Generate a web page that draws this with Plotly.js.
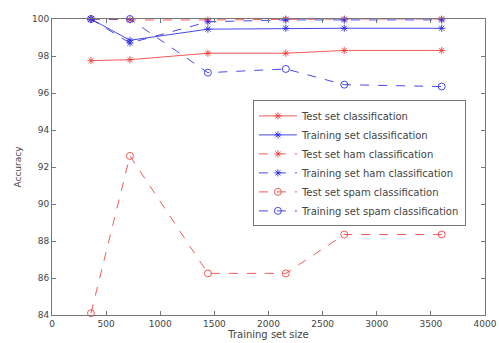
<!DOCTYPE html>
<html><head><meta charset="utf-8">
<script src="https://cdn.plot.ly/plotly-3.0.1.min.js"></script>
<style>body{margin:0;background:#fff}#chart{width:499px;height:343px}</style>
</head><body><div id="chart"></div>
<script>
const trainingSize = [360, 720, 1440, 2160, 2700, 3600];
const testSet = [97.75, 97.8, 98.15, 98.15, 98.3, 98.3];
const trainingSet = [100, 98.85, 99.45, 99.5, 99.5, 99.5];
const testHam = [100, 99.95, 99.95, 100, 100, 100];
const trainingHam = [100, 98.7, 99.85, 99.95, 99.95, 99.95];
const testSpam = [84.1, 92.6, 86.25, 86.25, 88.35, 88.35];
const trainingSpam = [100, 100, 97.1, 97.3, 96.45, 96.35];
const names = ["Test set classification","Training set classification","Test set ham classification","Training set ham classification","Test set spam classification","Training set spam classification"];

const red = "rgba(240,60,60,0.85)", blue = "rgba(40,40,230,0.85)";
function tr(y, name, color, dash, sym, size){
  return {x: trainingSize, y: y, name: name, type: "scatter", mode: "lines+markers",
    line: {color: color, width: 1, dash: dash},
    marker: {symbol: sym, size: size, color: color, line: {color: color, width: 1}},
    cliponaxis: false};
}
const data = [
  tr(testSet, names[0], red, "solid", "asterisk-open", 6),
  tr(trainingSet, names[1], blue, "solid", "asterisk-open", 6),
  tr(testHam, names[2], red, "dash", "asterisk-open", 6),
  tr(trainingHam, names[3], blue, "dash", "asterisk-open", 6),
  tr(testSpam, names[4], red, "dash", "circle-open", 7),
  tr(trainingSpam, names[5], blue, "dash", "circle-open", 7)
];
const fam = "DejaVu Sans, Arial, sans-serif";
const axBase = {showgrid: false, zeroline: false, showline: true, linecolor: "#777", linewidth: 1,
  mirror: "ticks", ticks: "inside", ticklen: 4, tickcolor: "#777",
  tickfont: {family: fam, size: 9, color: "#444"}};
const layout = {
  width: 499, height: 343,
  margin: {l: 52, r: 14, t: 19, b: 28},
  paper_bgcolor: "#fff", plot_bgcolor: "#fff",
  font: {family: fam, color: "#444"},
  xaxis: Object.assign({}, axBase, {range: [0, 4000], tickvals: [0,500,1000,1500,2000,2500,3000,3500,4000],
    title: {text: "Training set size", font: {size: 10, color: "#444"}, standoff: 3}}),
  yaxis: Object.assign({}, axBase, {range: [84, 100], tickvals: [84,86,88,90,92,94,96,98,100],
    title: {text: "Accuracy", font: {size: 9, color: "#444"}, standoff: 8}}),
  showlegend: true,
  legend: {x: 0.464, y: 0.725, xanchor: "left", yanchor: "top", bgcolor: "#fff",
    bordercolor: "#777", borderwidth: 1, font: {family: fam, size: 10, color: "#444"},
    tracegroupgap: 0, itemwidth: 38}
};
Plotly.newPlot("chart", data, layout, {displayModeBar: false, staticPlot: true});
</script></body></html>
